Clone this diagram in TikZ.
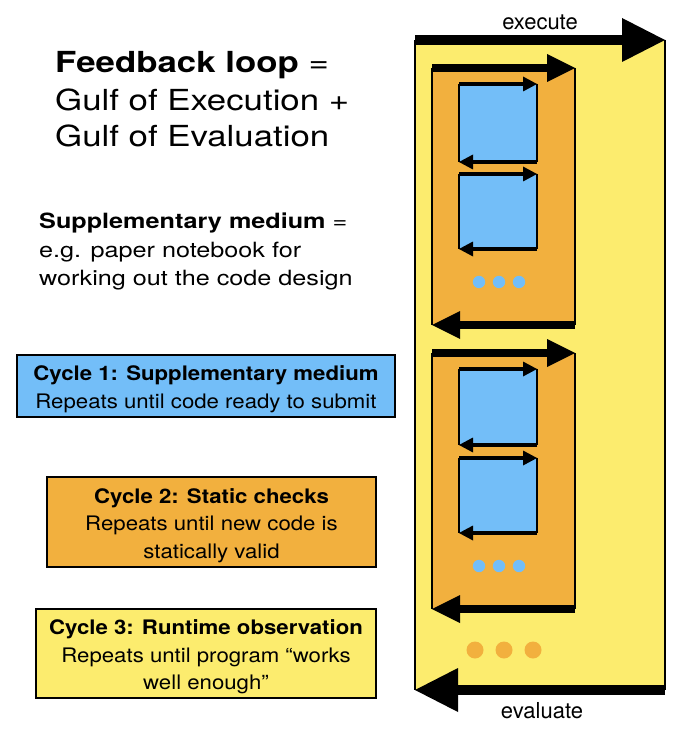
\documentclass[tikz,border=0pt]{standalone}
\usepackage{fontspec}
\setmainfont{TeX Gyre Heros}
\newfontfamily\titlefont[FakeStretch=1.2]{TeX Gyre Heros}
\newfontfamily\subfont[FakeStretch=1.2]{TeX Gyre Heros}
\newfontfamily\boxfont[FakeStretch=1.11]{TeX Gyre Heros}
\definecolor{cyellow}{HTML}{FCEC6E}
\definecolor{corange}{HTML}{F2B03E}
\definecolor{cblue}{HTML}{73BEF8}
\newcommand\fbloop[9]{% x1 y1 x2 y2 fill bar headlen headhalf sidewidth
  \fill[#5] (#1,#2) rectangle (#3,#4);
  \draw[line width=#9] (#1,#2) -- (#1,#4);
  \draw[line width=#9] (#3,#2) -- (#3,#4);
  \draw[line width=#6] (#1,#2) -- ({#3-#7},#2);
  \fill ({#3-#7},{#2-#8}) -- (#3,#2) -- ({#3-#7},{#2+#8}) -- cycle;
  \draw[line width=#6] (#3,#4) -- ({#1+#7},#4);
  \fill ({#1+#7},{#4-#8}) -- (#1,#4) -- ({#1+#7},{#4+#8}) -- cycle;
}
\begin{document}
\begin{tikzpicture}[x=1pt,y=-1pt,
  title/.style={anchor=base west,inner sep=0pt,font=\titlefont\fontsize{29}{37}\selectfont},
  sub/.style={anchor=base west,inner sep=0pt,font=\subfont\fontsize{21}{28}\selectfont},
  cyclebox/.style={draw=black,line width=1.5pt,inner sep=0pt},
  boxtext/.style={align=center,inner sep=0pt,font=\boxfont\fontsize{20}{27.5}\selectfont},
  lbl/.style={anchor=base,inner sep=0pt,font=\fontsize{22}{26}\selectfont},
  bdot/.style={fill=cblue},
  odot/.style={fill=corange}]
\useasboundingbox (0,0) rectangle (700,735);
\fill[white] (0,0) rectangle (700,735);
% outer loop
\fbloop{415}{40}{665}{690}{cyellow}{10pt}{43}{22}{1.5pt}
% orange loops
\fbloop{432}{68}{575}{325}{corange}{8pt}{28}{14}{1.5pt}
\fbloop{432}{353}{575}{609}{corange}{8pt}{28}{14}{1.5pt}
% blue loops
\fbloop{459}{84}{537}{162}{cblue}{3.5pt}{14}{7.5}{1.5pt}
\fbloop{459}{174}{537}{249}{cblue}{3.5pt}{14}{7.5}{1.5pt}
\fbloop{459}{369}{537}{445}{cblue}{3.5pt}{14}{7.5}{1.5pt}
\fbloop{459}{458}{537}{533}{cblue}{3.5pt}{14}{7.5}{1.5pt}
% dots
\foreach \x in {479,499,519} {
  \fill[bdot] (\x,282) circle (6.2);
  \fill[bdot] (\x,566) circle (6.2);
}
\foreach \x in {475,504,533} \fill[odot] (\x,650) circle (8.5);
% labels
\node[lbl] (exe) at (540,30) {execute};
\node[lbl] (eva) at (542,718) {evaluate};
% title
\node[title] (t1) at (55,73) {\textbf{Feedback loop} =};
\node[title] (t2) at (55,111) {Gulf of Execution +};
\node[title] (t3) at (55,147) {Gulf of Evaluation};
\node[sub] (s1) at (39,228) {\textbf{Supplementary medium} =};
\node[sub] (s2) at (39,257) {e.g. paper notebook for};
\node[sub] (s3) at (39,285) {working out the code design};
% cycle boxes
\node[cyclebox,fill=cblue,minimum width=378pt,minimum height=62pt] (c1) at (206,386) {};
\node[boxtext] (c1t) at ([yshift=-3pt]c1.center)
  {\textbf{Cycle 1: Supplementary medium}\\Repeats until code ready to submit};
\node[cyclebox,fill=corange,minimum width=329pt,minimum height=90pt] (c2) at (211.5,522) {};
\node[boxtext] (c2t) at ([yshift=-3.5pt]c2.center)
  {\textbf{Cycle 2: Static checks}\\Repeats until new code is\\statically valid};
\node[cyclebox,fill=cyellow,minimum width=340pt,minimum height=89pt] (c3) at (206,653.5) {};
\node[boxtext] (c3t) at ([yshift=-3.5pt]c3.center)
  {\textbf{Cycle 3: Runtime observation}\\Repeats until program “works\\well enough”};
\end{tikzpicture}
\end{document}
